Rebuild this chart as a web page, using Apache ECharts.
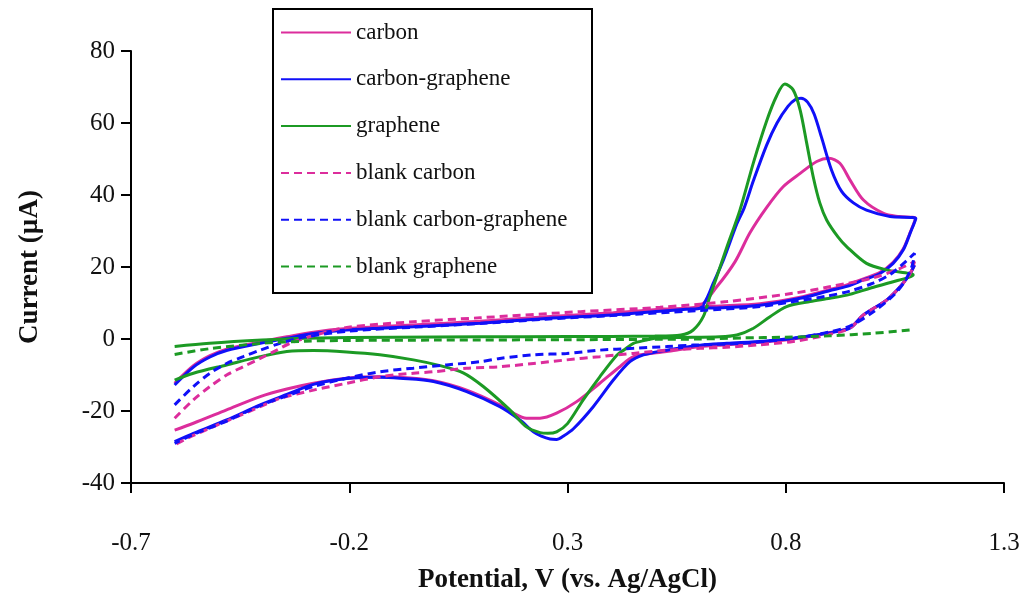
<!DOCTYPE html>
<html>
<head>
<meta charset="utf-8">
<script src="https://cdn.jsdelivr.net/npm/echarts@6/dist/echarts.min.js"></script>
<style>
  html, body { margin: 0; padding: 0; background: #fff; }
  #chart { width: 1026px; height: 600px; }
</style>
</head>
<body>
<div id="chart"></div>
<script>
// Cyclic voltammograms: potential (V vs. Ag/AgCl) against current (µA)

const seriesNames = ['carbon', 'carbon-graphene', 'graphene', 'blank carbon', 'blank carbon-graphene', 'blank graphene'];
const xTickValues = [-0.7, -0.2, 0.3, 0.8, 1.3];

// carbon electrode
const carbonForward = [[-0.6,-12.3],[-0.557,-7.4],[-0.519,-4.6],[-0.481,-2.8],[-0.404,-0.8],[-0.343,0.6],[-0.282,1.9],[-0.206,2.9],[-0.13,3.4],[-0.053,3.9],[0.023,4.4],[0.1,4.9],[0.252,6.2],[0.405,7.3],[0.52,8.3],[0.6,9.0],[0.642,14.5],[0.684,21.5],[0.718,29.5],[0.756,36.5],[0.794,42.3],[0.833,46.0],[0.871,49.3],[0.899,50.2],[0.924,48.8],[0.947,44.2],[0.978,38.6],[1.024,34.9],[1.06,34.0],[1.097,33.5]];
const carbonReturn = [[1.097,33.5],[1.085,29.6],[1.069,25.0],[1.046,21.3],[1.016,18.5],[0.978,16.7],[0.94,15.0],[0.9,13.7],[0.833,11.6],[0.741,9.8],[0.65,9.2],[0.6,9.0]];
const carbonReverse = [[1.095,20.5],[1.085,18.2],[1.062,14.5],[1.031,10.8],[0.978,6.7],[0.947,3.2],[0.894,1.6],[0.817,0.0],[0.75,-0.8],[0.665,-1.6],[0.604,-2.1],[0.527,-3.5],[0.451,-4.9],[0.42,-7.7],[0.374,-12.3],[0.321,-17.4],[0.275,-20.6],[0.237,-22.0],[0.206,-22.0],[0.176,-20.6],[0.145,-18.3],[0.069,-14.2],[-0.007,-11.6],[-0.084,-10.6],[-0.13,-10.5],[-0.206,-10.9],[-0.282,-12.3],[-0.343,-13.9],[-0.404,-16.0],[-0.481,-19.7],[-0.557,-23.4],[-0.6,-25.3]];

// carbon-graphene electrode
const cgForward = [[-0.6,-12.8],[-0.557,-7.8],[-0.519,-5.0],[-0.481,-3.2],[-0.404,-1.2],[-0.343,0.2],[-0.282,1.5],[-0.206,2.5],[-0.13,3.0],[-0.053,3.4],[0.023,3.9],[0.1,4.4],[0.252,5.7],[0.405,6.7],[0.52,7.8],[0.58,8.3],[0.604,8.6],[0.62,11.5],[0.634,15.5],[0.657,21.9],[0.688,32.0],[0.705,36.5],[0.726,44.0],[0.756,53.8],[0.78,60.0],[0.805,64.6],[0.822,66.5],[0.835,66.9],[0.85,65.8],[0.865,62.5],[0.882,56.0],[0.905,46.9],[0.928,41.0],[0.955,37.8],[0.985,35.8],[1.039,34.0],[1.098,33.5]];
const cgReturn = [[1.098,33.5],[1.085,29.4],[1.069,24.7],[1.046,21.0],[1.016,18.2],[0.978,16.4],[0.94,14.6],[0.9,13.4],[0.833,11.3],[0.741,9.4],[0.65,8.7],[0.604,8.6]];
const cgReverse = [[1.095,20.5],[1.085,18.2],[1.062,14.5],[1.031,10.8],[0.978,6.7],[0.947,3.0],[0.894,1.6],[0.817,0.2],[0.75,-0.6],[0.665,-1.2],[0.604,-1.7],[0.527,-3.1],[0.474,-4.4],[0.443,-6.3],[0.405,-11.4],[0.359,-18.8],[0.313,-25.0],[0.29,-27.0],[0.275,-27.9],[0.26,-27.8],[0.24,-27.0],[0.222,-25.8],[0.191,-22.5],[0.145,-18.8],[0.069,-14.6],[-0.007,-11.8],[-0.084,-10.9],[-0.13,-10.6],[-0.206,-11.0],[-0.282,-12.6],[-0.343,-15.4],[-0.404,-18.3],[-0.481,-22.5],[-0.557,-26.2],[-0.6,-28.5]];

// graphene electrode
const grForward = [[-0.6,-2.1],[-0.52,-1.2],[-0.4,-0.3],[-0.3,0.2],[-0.1,0.5],[0.1,0.6],[0.3,0.7],[0.5,0.8],[0.56,1.1],[0.588,2.5],[0.611,6.2],[0.626,11.7],[0.642,17.3],[0.665,25.5],[0.695,35.8],[0.726,49.0],[0.756,60.5],[0.779,67.5],[0.798,70.8],[0.817,69.2],[0.833,63.6],[0.848,54.4],[0.863,45.0],[0.878,37.8],[0.894,33.0],[0.92,28.3],[0.94,25.6],[0.985,21.0],[1.031,19.2],[1.092,17.8]];
const grReverse = [[1.092,17.8],[1.04,15.7],[0.993,14.1],[0.947,12.4],[0.901,11.3],[0.856,10.4],[0.802,9.0],[0.764,6.2],[0.726,3.0],[0.688,1.1],[0.649,0.6],[0.55,0.4],[0.5,0.2],[0.481,-0.3],[0.451,-1.2],[0.43,-3.0],[0.413,-4.5],[0.374,-10.5],[0.336,-16.9],[0.3,-23.5],[0.275,-25.8],[0.255,-26.2],[0.237,-26.0],[0.206,-24.4],[0.168,-19.7],[0.107,-13.2],[0.061,-9.4],[0.008,-7.4],[-0.053,-5.8],[-0.13,-4.4],[-0.206,-3.6],[-0.282,-3.2],[-0.343,-3.5],[-0.404,-4.9],[-0.481,-7.2],[-0.557,-9.5],[-0.6,-11.4]];

// blank electrodes
const blankCarbonUpper = [[-0.6,-22.0],[-0.557,-16.9],[-0.519,-13.2],[-0.481,-10.0],[-0.443,-7.7],[-0.404,-5.4],[-0.366,-3.1],[-0.336,-1.2],[-0.28,1.0],[-0.206,3.2],[-0.053,4.8],[0.1,5.9],[0.33,7.6],[0.512,8.8],[0.665,10.4],[0.817,12.7],[0.9,14.5],[1.0,17.0],[1.06,19.5],[1.095,21.5]];
const blankCarbonLower = [[1.095,21.5],[1.085,18.2],[1.062,14.5],[1.031,10.8],[0.978,6.7],[0.947,3.0],[0.894,1.1],[0.817,-0.7],[0.74,-1.6],[0.665,-2.3],[0.604,-2.6],[0.527,-3.1],[0.451,-4.0],[0.374,-4.9],[0.298,-5.8],[0.222,-6.8],[0.145,-7.7],[0.069,-8.1],[-0.007,-9.1],[-0.053,-9.5],[-0.13,-10.5],[-0.206,-12.3],[-0.282,-14.2],[-0.359,-16.5],[-0.404,-18.8],[-0.481,-22.8],[-0.557,-26.8],[-0.6,-29.4]];
const blankCgUpper = [[-0.6,-18.3],[-0.557,-13.2],[-0.519,-9.5],[-0.481,-6.8],[-0.443,-4.9],[-0.404,-3.1],[-0.359,-1.2],[-0.3,0.6],[-0.2,2.2],[-0.05,3.3],[0.1,4.3],[0.25,5.5],[0.4,6.5],[0.6,7.9],[0.741,9.0],[0.817,10.4],[0.894,11.9],[0.947,13.3],[1.0,15.5],[1.04,18.0],[1.07,21.0],[1.095,23.8]];
const blankCgLower = [[1.095,23.8],[1.09,20.5],[1.075,16.5],[1.05,12.5],[1.0,7.5],[0.947,3.6],[0.894,1.8],[0.817,0.2],[0.7,-1.2],[0.588,-1.7],[0.527,-2.1],[0.451,-2.6],[0.374,-3.1],[0.298,-4.0],[0.222,-4.4],[0.145,-5.4],[0.1,-6.3],[0.023,-7.2],[-0.053,-8.1],[-0.13,-9.1],[-0.206,-10.9],[-0.282,-13.2],[-0.343,-15.8],[-0.404,-18.5],[-0.481,-22.8],[-0.557,-26.5],[-0.6,-29.0]];
const blankGraphene = [[-0.6,-4.3],[-0.52,-2.7],[-0.4,-1.2],[-0.3,-0.6],[-0.2,-0.4],[0.0,-0.3],[0.3,-0.2],[0.5,-0.1],[0.6,0.0],[0.7,0.3],[0.8,0.5],[0.9,0.9],[1.0,1.6],[1.095,2.6]];

const colors = { carbon: '#dc2d9c', cg: '#1010f8', gr: '#1c9a24' };
const FONT = '"Liberation Serif", "Times New Roman", serif';

// join separate branches of one trace, leaving a gap between them
function joinBranches(...branches) {
  const out = [];
  branches.forEach((b, i) => {
    if (i > 0) out.push(null);
    b.forEach(p => out.push(p));
  });
  return out;
}

function trace(name, color, dashed, data) {
  return {
    name, type: 'line', data,
    showSymbol: false, symbol: 'none',
    smooth: 0.3, connectNulls: false,
    animation: false,
    itemStyle: { color },
    lineStyle: { color, width: 3, type: dashed ? [8, 5] : 'solid', cap: 'butt' },
    emphasis: { disabled: true }
  };
}

const chart = echarts.init(document.getElementById('chart'), null, { renderer: 'canvas' });

chart.setOption({
  backgroundColor: '#fff',
  animation: false,
  grid: { left: 131, right: 22, top: 51, bottom: 117, containLabel: false, outerBoundsMode: 'none' },
  xAxis: {
    type: 'value', min: -0.7, max: 1.3,
    name: 'Potential, V (vs. Ag/AgCl)', nameLocation: 'middle', nameGap: 84,
    nameTextStyle: { fontFamily: FONT, fontWeight: 'bold', fontSize: 27, color: '#111' },
    axisLine: { onZero: false, lineStyle: { color: '#000', width: 2 } },
    axisTick: { show: true, inside: false, length: 10, customValues: xTickValues, lineStyle: { color: '#000', width: 2 } },
    axisLabel: { customValues: xTickValues, margin: 48, fontFamily: FONT, fontSize: 25, color: '#111',
                 formatter: v => Number(v).toFixed(1) },
    splitLine: { show: false }
  },
  yAxis: {
    type: 'value', min: -40, max: 80, interval: 20,
    name: 'Current (µA)', nameLocation: 'middle', nameGap: 87, nameRotate: 90,
    nameTextStyle: { fontFamily: FONT, fontWeight: 'bold', fontSize: 27, color: '#111' },
    axisLine: { show: true, onZero: false, lineStyle: { color: '#000', width: 2 } },
    axisTick: { show: true, inside: false, length: 10, lineStyle: { color: '#000', width: 2 } },
    axisLabel: { margin: 16, fontFamily: FONT, fontSize: 25, color: '#111' },
    splitLine: { show: false }
  },
  graphic: [{
    type: 'rect', z: 10,
    shape: { x: 273, y: 9, width: 319, height: 284 },
    style: { fill: '#fff', stroke: '#000', lineWidth: 2 }
  }],
  legend: {
    z: 20, orient: 'vertical', left: 280, top: 21, padding: 0,
    itemWidth: 70, itemHeight: 14, itemGap: 23.8,
    selectedMode: false,
    itemStyle: { color: 'rgba(0,0,0,0)', borderColor: 'rgba(0,0,0,0)', borderWidth: 0 },
    textStyle: { fontFamily: FONT, fontSize: 23, color: '#111' },
    data: seriesNames
  },
  series: [
    trace(seriesNames[0], colors.carbon, false, joinBranches(carbonReverse, carbonForward.concat(carbonReturn.slice(1)))),
    trace(seriesNames[1], colors.cg, false, joinBranches(cgReverse, cgForward.concat(cgReturn.slice(1)))),
    trace(seriesNames[2], colors.gr, false, grForward.concat(grReverse.slice(1))),
    trace(seriesNames[3], colors.carbon, true, blankCarbonUpper.concat(blankCarbonLower.slice(1))),
    trace(seriesNames[4], colors.cg, true, blankCgUpper.concat(blankCgLower.slice(1))),
    trace(seriesNames[5], colors.gr, true, blankGraphene)
  ]
});
</script>
</body>
</html>
